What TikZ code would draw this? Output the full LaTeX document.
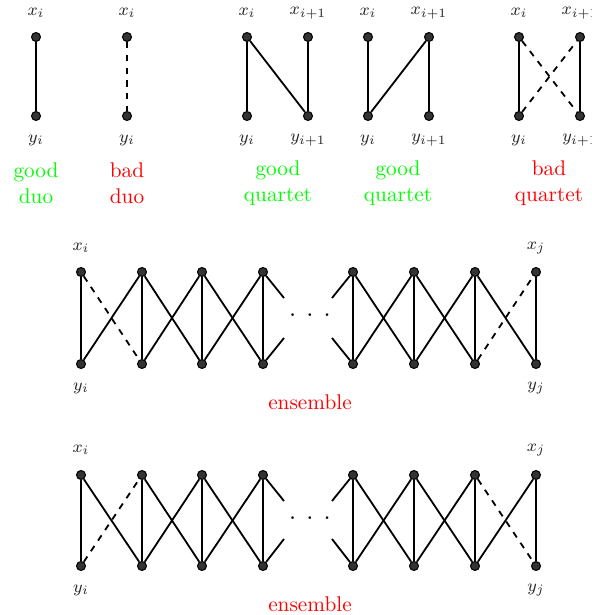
\documentclass[tikz,border=0pt]{standalone}
\begin{document}
\begin{tikzpicture}[x=0.47pt,y=-0.47pt,
  vtx/.style={circle,draw=black,fill=black!80,inner sep=0pt,minimum size=4.2pt,line width=0.5pt},
  edge/.style={line width=0.85pt},
  dedge/.style={edge,dashed},
  lab/.style={font=\footnotesize,text=black!85},
  goodlab/.style={text=green,align=center},
  badlab/.style={text=red,align=center},
  dotslab/.style={font=\large}]
\useasboundingbox (0,0) rectangle (592,615);

% ---------- top row ----------
% good duo
\node[vtx] (gx) at (36,37) {};
\node[vtx] (gy) at (36,116) {};
\draw[edge] (gx) -- (gy);
\node[lab] (gxl) at (36,13) {$x_i$};
\node[lab] (gyl) at (36,140) {$y_i$};
\node[goodlab] (gdl) at (36,183) {good\\duo};
% bad duo
\node[vtx] (bx) at (127,37) {};
\node[vtx] (by) at (127,116) {};
\draw[dedge] (bx) -- (by);
\node[lab] (bxl) at (127,13) {$x_i$};
\node[lab] (byl) at (127,140) {$y_i$};
\node[badlab] (bdl) at (127,183) {bad\\duo};
% good quartet 1
\node[vtx] (q1x1) at (247,37) {};
\node[vtx] (q1x2) at (308,37) {};
\node[vtx] (q1y1) at (247,116) {};
\node[vtx] (q1y2) at (308,116) {};
\draw[edge] (q1x1) -- (q1y1);
\draw[edge] (q1x2) -- (q1y2);
\draw[edge] (q1x1) -- (q1y2);
\node[lab] (q1a) at (247,13) {$x_i$};
\node[lab] (q1b) at (308,13) {$x_{i+1}$};
\node[lab] (q1c) at (247,140) {$y_i$};
\node[lab] (q1d) at (308,140) {$y_{i+1}$};
\node[goodlab] (q1l) at (278,183) {good\\quartet};
% good quartet 2
\node[vtx] (q2x1) at (368,37) {};
\node[vtx] (q2x2) at (429,37) {};
\node[vtx] (q2y1) at (368,116) {};
\node[vtx] (q2y2) at (429,116) {};
\draw[edge] (q2x1) -- (q2y1);
\draw[edge] (q2x2) -- (q2y2);
\draw[edge] (q2y1) -- (q2x2);
\node[lab] (q2a) at (368,13) {$x_i$};
\node[lab] (q2b) at (429,13) {$x_{i+1}$};
\node[lab] (q2c) at (368,140) {$y_i$};
\node[lab] (q2d) at (429,140) {$y_{i+1}$};
\node[goodlab] (q2l) at (398,183) {good\\quartet};
% bad quartet
\node[vtx] (q3x1) at (519,37) {};
\node[vtx] (q3x2) at (580,37) {};
\node[vtx] (q3y1) at (519,116) {};
\node[vtx] (q3y2) at (580,116) {};
\draw[edge] (q3x1) -- (q3y1);
\draw[edge] (q3x2) -- (q3y2);
\draw[dedge] (q3x1) -- (q3y2);
\draw[dedge] (q3y1) -- (q3x2);
\node[lab] (q3a) at (519,13) {$x_i$};
\node[lab] (q3b) at (580,13) {$x_{i+1}$};
\node[lab] (q3c) at (519,140) {$y_i$};
\node[lab] (q3d) at (580,140) {$y_{i+1}$};
\node[badlab] (q3l) at (549,183) {bad\\quartet};

% ---------- ensemble 1 ----------
\foreach \x [count=\k] in {81,142,202,263,353,414,475,536} {
  \node[vtx] (a\k) at (\x,272) {};
  \node[vtx] (b\k) at (\x,364) {};
  \draw[edge] (a\k) -- (b\k);
}
\draw[dedge] (a1) -- (b2);
\draw[edge] (b1) -- (a2);
\foreach \k/\m in {2/3,3/4,5/6,6/7} {
  \draw[edge] (a\k) -- (b\m);
  \draw[edge] (b\k) -- (a\m);
}
\draw[edge] (a7) -- (b8);
\draw[dedge] (b7) -- (a8);
\coordinate (s1) at (284,298);
\coordinate (s2) at (284,338);
\coordinate (s3) at (332,298);
\coordinate (s4) at (332,338);
\draw[edge] (a4) -- (s1);
\draw[edge] (b4) -- (s2);
\draw[edge] (s3) -- (a5);
\draw[edge] (s4) -- (b5);
\node[dotslab] (dots1) at (310,316) {${\cdot}\hspace{4.8pt}{\cdot}\hspace{4.8pt}{\cdot}$};
\node[lab] (e1xi) at (81,248) {$x_i$};
\node[lab] (e1yi) at (81,388) {$y_i$};
\node[lab] (e1xj) at (536,248) {$x_j$};
\node[lab] (e1yj) at (536,388) {$y_j$};
\node[text=red] (e1l) at (310,402) {ensemble};

% ---------- ensemble 2 ----------
\foreach \x [count=\k] in {81,142,202,263,353,414,475,536} {
  \node[vtx] (c\k) at (\x,475) {};
  \node[vtx] (d\k) at (\x,566) {};
  \draw[edge] (c\k) -- (d\k);
}
\draw[edge] (c1) -- (d2);
\draw[dedge] (d1) -- (c2);
\foreach \k/\m in {2/3,3/4,5/6,6/7} {
  \draw[edge] (c\k) -- (d\m);
  \draw[edge] (d\k) -- (c\m);
}
\draw[dedge] (c7) -- (d8);
\draw[edge] (d7) -- (c8);
\coordinate (t1) at (284,501);
\coordinate (t2) at (284,539);
\coordinate (t3) at (332,501);
\coordinate (t4) at (332,539);
\draw[edge] (c4) -- (t1);
\draw[edge] (d4) -- (t2);
\draw[edge] (t3) -- (c5);
\draw[edge] (t4) -- (d5);
\node[dotslab] (dots2) at (310,519) {${\cdot}\hspace{4.8pt}{\cdot}\hspace{4.8pt}{\cdot}$};
\node[lab] (e2xi) at (81,450) {$x_i$};
\node[lab] (e2yi) at (81,590) {$y_i$};
\node[lab] (e2xj) at (536,450) {$x_j$};
\node[lab] (e2yj) at (536,590) {$y_j$};
\node[text=red] (e2l) at (310,604) {ensemble};
\end{tikzpicture}
\end{document}
